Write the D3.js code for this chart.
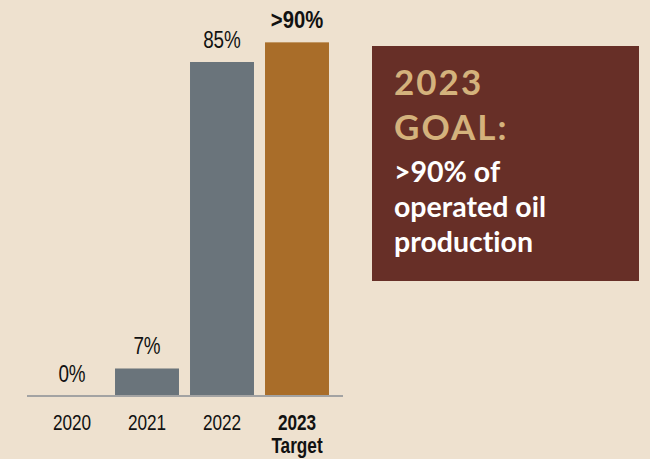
<!DOCTYPE html>
<html>
<head>
<meta charset="utf-8">
<script src="https://cdn.jsdelivr.net/npm/d3@7"></script>
<style>
  body { margin: 0; background: #eee1cf; }
  svg { display: block; }
  .cond { font-family: "Liberation Sans", Arial, sans-serif; }
  .goal { font-family: "Lato", "Open Sans", sans-serif; font-weight: bold; font-variant-ligatures: none; }
</style>
</head>
<body>
<div id="chart"></div>
<script>
// data
var years = ["2020", "2021", "2022", "2023"];
var values = [0, 7, 85, 90];
var valueLabels = ["0%", "7%", "85%", ">90%"];
var subLabels = ["", "", "", "Target"];
var goalTitle = ["2023", "GOAL:"];
var goalText = [">90% of", "operated oil", "production"];

function lineChart() {
    var w = 650;
    var h = 459;
    var base = 396;
    var squeeze = 0.8; // fake a condensed face

    var xScale = d3.scaleBand()
        .domain(years)
        .range([34.5, 334.5])
        .paddingInner(0.147)
        .paddingOuter(0.0735);

    var yScale = d3.scaleLinear()
        .domain([0, 85])
        .range([base, 62]);

    var svg = d3.select("#chart").append("svg").attr("width", w).attr("height", h);

    svg.append("rect").attr("width", w).attr("height", h).attr("fill", "#eee1cf");

    // bars
    svg.selectAll(".bar")
        .data(years)
        .enter()
        .append("rect")
        .attr("class", "bar")
        .attr("x", function(d) { return xScale(d); })
        .attr("width", xScale.bandwidth())
        .attr("y", function(d, i) { return yScale(values[i]); })
        .attr("height", function(d, i) { return base - yScale(values[i]); })
        .attr("fill", function(d, i) { return i == 3 ? "#a96d29" : "#6a747b"; });

    // baseline + year labels
    var xAxis = d3.axisBottom(xScale).tickSize(0).tickPadding(0);
    var gx = svg.append("g")
        .attr("transform", "translate(0," + base + ")")
        .call(xAxis);
    gx.select(".domain").attr("d", "M27,0H343").attr("stroke", "#a3a3a3").attr("stroke-width", 2);
    gx.selectAll(".tick text")
        .attr("class", "cond")
        .attr("y", 0)
        .attr("dy", null)
        .attr("transform", "translate(0,34) scale(" + squeeze + ",1)")
        .attr("font-size", 21.5)
        .attr("fill", "#111")
        .attr("font-weight", function(d, i) { return i == 3 ? "bold" : "normal"; });

    svg.selectAll(".sub")
        .data(years)
        .enter()
        .append("text")
        .attr("class", "cond")
        .attr("transform", function(d) {
            return "translate(" + (xScale(d) + xScale.bandwidth() / 2) + ",453) scale(" + squeeze + ",1)";
        })
        .attr("text-anchor", "middle")
        .attr("font-size", 21.5)
        .attr("font-weight", "bold")
        .attr("fill", "#111")
        .text(function(d, i) { return subLabels[i]; });

    // value labels
    svg.selectAll(".val")
        .data(years)
        .enter()
        .append("text")
        .attr("class", "cond")
        .attr("transform", function(d, i) {
            var s = i == 3 ? 0.88 : 0.82;
            return "translate(" + (xScale(d) + xScale.bandwidth() / 2) + "," + (yScale(values[i]) - 14) + ") scale(" + s + ",1)";
        })
        .attr("text-anchor", "middle")
        .attr("font-size", 23)
        .attr("font-weight", function(d, i) { return i == 3 ? "bold" : "normal"; })
        .attr("fill", "#111")
        .text(function(d, i) { return valueLabels[i]; });

    // goal box
    svg.append("rect")
        .attr("x", 372)
        .attr("y", 46)
        .attr("width", 267)
        .attr("height", 235)
        .attr("fill", "#672f27");

    svg.selectAll(".gt")
        .data(goalTitle)
        .enter()
        .append("text")
        .attr("class", "goal")
        .attr("x", 394)
        .attr("y", function(d, i) { return 95 + i * 45; })
        .attr("font-size", 35)
        .attr("letter-spacing", 2)
        .attr("fill", "#d4b27c")
        .text(function(d) { return d; });

    svg.selectAll(".gb")
        .data(goalText)
        .enter()
        .append("text")
        .attr("class", "goal")
        .attr("x", 394)
        .attr("y", function(d, i) { return 182 + i * 35; })
        .attr("font-size", 28.5)
        .attr("fill", "#ffffff")
        .text(function(d) { return d; });
}

window.onload = lineChart;
</script>
</body>
</html>
